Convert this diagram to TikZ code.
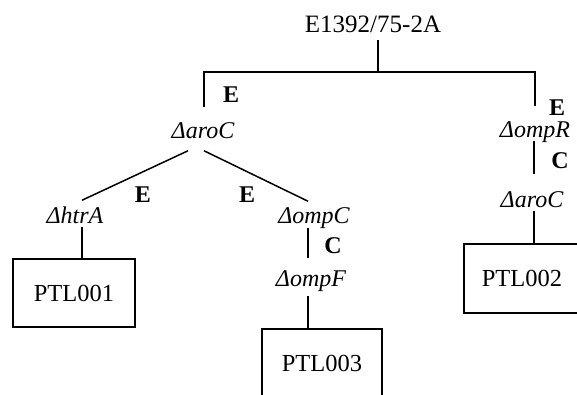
\documentclass[tikz,border=0pt]{standalone}
\usepackage{fontspec}
\setmainfont{Liberation Serif}
\usetikzlibrary{calc}
\begin{document}
\begin{tikzpicture}[x=1pt,y=-1pt,line width=1.5pt,
  gene/.style={inner sep=0pt,anchor=base,text height=15pt,text depth=0pt,font=\fontsize{24}{28}\selectfont\itshape},
  op/.style={inner sep=0pt,anchor=base,font=\fontsize{24}{28}\selectfont\bfseries},
  strain/.style={draw,inner sep=0pt,minimum width=122pt,minimum height=68pt,font=\fontsize{24.5}{28}\selectfont},
  ttl/.style={inner sep=0pt,anchor=base,text depth=0pt,font=\fontsize{25}{29}\selectfont}]
\useasboundingbox (0,0) rectangle (577,394);
\clip (0,0) rectangle (577,394);
\node[ttl] (title) at (373,32) {E1392/75-2A};
\coordinate (jtop) at (378,72);
\node[gene] (aroC) at (203,138) {Δ{}aroC};
\node[gene] (ompR) at (535,137) {Δ{}ompR};
\node[gene] (htrA) at (75,223) {Δ{}htrA};
\node[gene] (ompC) at (314,223) {Δ{}ompC};
\node[gene] (ompF) at (311,286) {Δ{}ompF};
\node[gene] (aroCb) at (532,207) {Δ{}aroC};
\node[op] (e1) at (231,102) {E};
\node[op] (e2) at (557,115) {E};
\node[op] (e3) at (143,202) {E};
\node[op] (e4) at (247,202) {E};
\node[op] (c1) at (333,253) {C};
\node[op] (c2) at (560,168) {C};
\node[strain] (p1) at (74,293) {PTL001};
\node[strain,minimum width=116pt,minimum height=69pt] (p2) at (522,278.5) {PTL002};
\node[strain,minimum width=120pt] (p3) at (322,363) {PTL003};
\draw ($(title.south)+(5,7)$) -- (jtop);
\draw ($(aroC.north)+(1,-15)$) |- (jtop) -| ($(ompR.north)+(0,-15)$);
\draw ($(aroC.south)+(-15,12)$) -- ($(htrA.north)+(7,-7)$);
\draw ($(aroC.south)+(1,12)$) -- ($(ompC.north)+(-6,-6)$);
\draw ($(htrA.south)+(7,3)$) -- ($(p1.north)+(8,0)$);
\draw ($(ompC.south)+(-6,4)$) -- ($(ompF.north)+(-3,-12)$);
\draw ($(ompF.south)+(-3,9)$) -- ($(p3.north)+(-14,0)$);
\draw ($(ompR.south)+(-1,3)$) -- ($(aroCb.north)+(2,-17)$);
\draw ($(aroCb.south)+(2,3)$) -- ($(p2.north)+(12,0)$);
\end{tikzpicture}
\end{document}
